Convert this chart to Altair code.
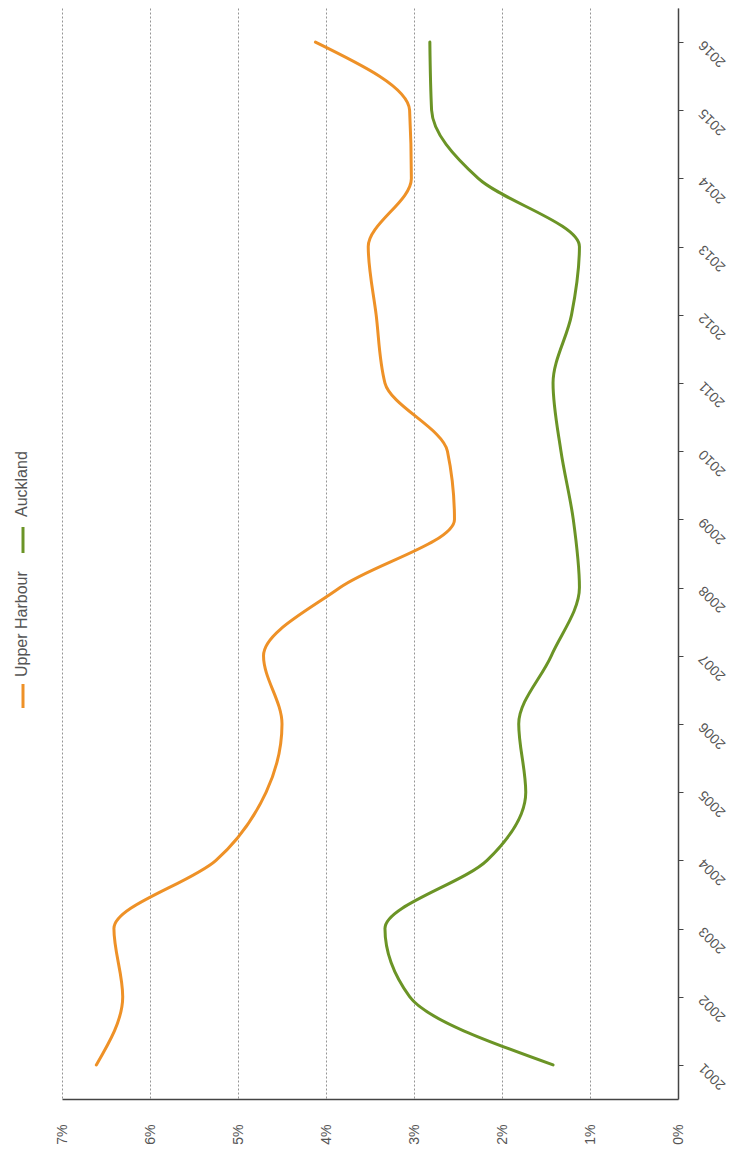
import altair as alt
import pandas as pd

years = list(range(2001, 2017))
series_names = ["Upper Harbour", "Auckland"]
upper_harbour = [6.61, 6.31, 6.41, 5.25, 4.68, 4.50, 4.71, 3.84, 2.54, 2.62, 3.33, 3.43, 3.52, 3.03, 3.05, 4.12]
auckland = [1.42, 3.05, 3.33, 2.17, 1.73, 1.81, 1.44, 1.12, 1.19, 1.33, 1.42, 1.21, 1.12, 2.27, 2.80, 2.82]
pct_ticks = [0, 1, 2, 3, 4, 5, 6, 7]
colors = ["#EE9127", "#6B9426"]

rows = []
for name, vals in zip(series_names, [upper_harbour, auckland]):
    for y, v in zip(years, vals):
        rows.append({"series": name, "year": y, "pct": v})
df = pd.DataFrame(rows)

lines = alt.Chart(df).mark_area(
    orient="horizontal", interpolate="monotone", fillOpacity=0,
    strokeWidth=3, strokeJoin="round", strokeCap="round"
).encode(
    x=alt.X("pct:Q",
            scale=alt.Scale(domain=[0, 7], reverse=True, nice=False, zero=False),
            axis=alt.Axis(values=pct_ticks, labelExpr="datum.value + '%'", labelAngle=270,
                          labelAlign="right", labelBaseline="middle", labelPadding=25,
                          ticks=False, title=None, grid=True, gridColor="#959595",
                          gridDash=[2, 2], gridWidth=1, domainColor="#444", domainWidth=1.5,
                          labelFontSize=14, labelColor="#555", labelFont="Liberation Sans",
                          labelBound=False, labelOverlap=False)),
    x2=alt.X2("pct"),
    y=alt.Y("year:Q",
            scale=alt.Scale(domain=[2000.5, 2016.5], nice=False, zero=False),
            axis=alt.Axis(orient="right", values=years, format="d", labelAngle=225,
                          labelAlign="right", labelBaseline="middle", labelPadding=18,
                          tickSize=5, tickColor="#444", title=None, grid=False,
                          domainColor="#444", domainWidth=1.5,
                          labelFontSize=14, labelColor="#555", labelFont="Liberation Sans",
                          labelOverlap=False)),
    stroke=alt.Stroke("series:N", scale=alt.Scale(domain=series_names, range=colors), legend=None),
)

def legend_item(name, color, rule_y1, rule_y2, text_y):
    d = pd.DataFrame({"label": [name]})
    rule = alt.Chart(d).mark_rule(strokeWidth=3, color=color).encode(
        x=alt.value(-39), y=alt.value(rule_y1), y2=alt.value(rule_y2))
    txt = alt.Chart(d).mark_text(angle=270, align="left", baseline="middle", fontSize=16,
                                 color="#555", font="Liberation Sans").encode(
        x=alt.value(-40), y=alt.value(text_y), text="label:N")
    return rule + txt

leg1 = legend_item(series_names[0], colors[0], 676, 700, 669)
leg2 = legend_item(series_names[1], colors[1], 519, 545, 509)

chart = alt.layer(lines, leg1, leg2).properties(
    width=616, height=1091,
    autosize=alt.AutoSizeParams(type="none"),
    padding={"left": 54, "top": 0, "right": 49, "bottom": 53},
).configure_view(strokeWidth=0)

chart.save("out.html", embed_options={"renderer": "svg", "actions": False})
